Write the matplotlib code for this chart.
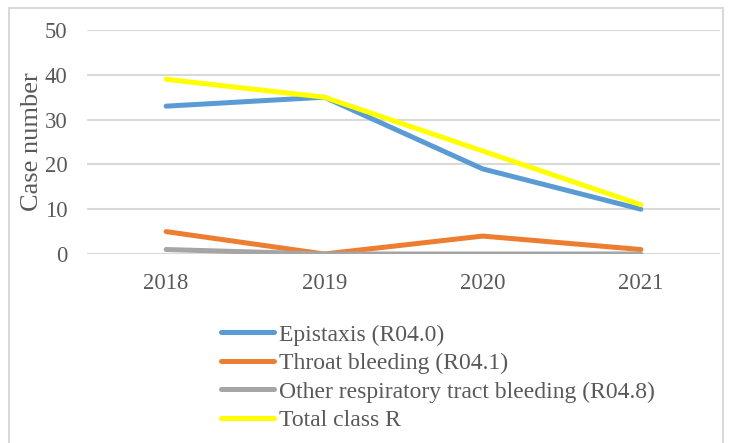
import matplotlib.pyplot as plt
from matplotlib.patches import Rectangle

years = ["2018", "2019", "2020", "2021"]
epistaxis = [33, 35, 19, 10]
throat = [5, 0, 4, 1]
other = [1, 0, 0, 0]
total = [39, 35, 23, 11]

labels = ["Epistaxis (R04.0)", "Throat bleeding (R04.1)",
          "Other respiratory tract bleeding (R04.8)", "Total class R"]
colors = ["#5B9BD5", "#ED7D31", "#A5A5A5", "#FFFF00"]

plt.rcParams['font.family'] = ['Liberation Serif', 'DejaVu Serif']
txt = "#595959"

fig = plt.figure(figsize=(7.29, 4.43), dpi=100)
ax = fig.add_axes([87/729, 189/443, 633/729, 224/443])

x = range(len(years))
for ys, lab, c in zip([epistaxis, throat, other, total], labels, colors):
    ax.plot(x, ys, color=c, lw=3.6, label=lab, solid_capstyle='round')

ax.set_xlim(-0.5, 3.5)
ax.set_ylim(0, 50)
ax.set_yticks([0, 10, 20, 30, 40, 50])
ax.set_xticks(list(x))
ax.set_xticklabels(years)
ax.grid(axis='y', color='#D9D9D9', lw=1.5)
ax.set_axisbelow(True)
for s in ax.spines.values():
    s.set_visible(False)
ax.tick_params(length=0, labelsize=16.3, colors=txt)
ax.tick_params(axis='x', pad=14)
ax.tick_params(axis='y', pad=14)
ax.set_ylabel("Case number", fontsize=19, color=txt, labelpad=1)

fig.legend(loc='upper left', bbox_to_anchor=(221/729, 1 - 324/443),
           frameon=False, fontsize=17, labelcolor=txt,
           handlelength=2.25, handletextpad=0.2, labelspacing=0.3,
           borderaxespad=0, borderpad=0)

fig.patches.append(Rectangle((9/729, -2/443), 714/729, 437/443,
                             transform=fig.transFigure, fill=False,
                             edgecolor='#D9D9D9', lw=1.5))

fig.savefig("out.png", dpi=100)
